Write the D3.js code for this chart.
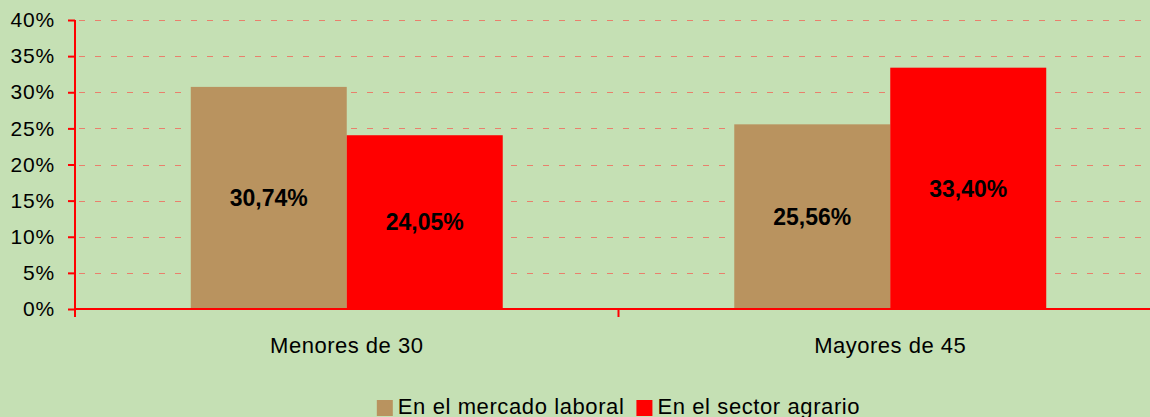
<!DOCTYPE html>
<html>
<head>
<meta charset="utf-8">
<script src="https://cdn.jsdelivr.net/npm/d3@7"></script>
<style>
  html, body { margin: 0; padding: 0; background: #C5E0B4; }
  svg { display: block; font-family: "Liberation Sans", Arial, sans-serif; }
</style>
</head>
<body>
<div id="chart"></div>
<script>
// Categories, series and tick labels
const categories = ["Menores de 30", "Mayores de 45"];
const seriesNames = ["En el mercado laboral", "En el sector agrario"];
const mercadoLaboral = [30.74, 25.56];
const sectorAgrario = [24.05, 33.40];
const yTicks = [0, 5, 10, 15, 20, 25, 30, 35, 40];

const colors = ["#B9935F", "#FF0000"];
const width = 1150;
const height = 417;

// chart area (plot runs a bit past the right edge, like the reference)
const plotLeft = 75, plotRight = 1162, plotTop = 20, plotBottom = 309;

const svg = d3.select("#chart")
    .append("svg")
    .attr("width", width)
    .attr("height", height);

svg.append("rect")
    .attr("width", width)
    .attr("height", height)
    .attr("fill", "#C5E0B4");

// Scales
const yScale = d3.scaleLinear()
    .domain([0, 40])
    .range([plotBottom, plotTop]);

const x0 = d3.scaleBand()
    .domain(categories)
    .range([plotLeft, plotRight])
    .paddingInner(0.426)
    .paddingOuter(0.213);

const x1 = d3.scaleBand()
    .domain(seriesNames)
    .range([0, x0.bandwidth()]);

// Dashed gridlines
svg.append("g")
    .selectAll("line")
    .data(yTicks.filter(d => d > 0))
    .enter()
    .append("line")
    .attr("x1", plotLeft + 2)
    .attr("x2", plotRight)
    .attr("y1", d => Math.round(yScale(d)) + 0.5)
    .attr("y2", d => Math.round(yScale(d)) + 0.5)
    .attr("stroke", "#E9806C")
    .attr("stroke-width", 1)
    .attr("stroke-dasharray", "6,10")
    .attr("stroke-dashoffset", -2);

// Bars
const rows = categories.map((c, i) => ({
    category: c,
    values: [
        { name: seriesNames[0], value: mercadoLaboral[i] },
        { name: seriesNames[1], value: sectorAgrario[i] }
    ]
}));

const groups = svg.selectAll(".group")
    .data(rows)
    .enter()
    .append("g")
    .attr("class", "group")
    .attr("transform", d => `translate(${x0(d.category)},0)`);

groups.selectAll("rect")
    .data(d => d.values)
    .enter()
    .append("rect")
    .attr("x", d => x1(d.name))
    .attr("y", d => yScale(d.value))
    .attr("width", x1.bandwidth())
    .attr("height", d => yScale(0) - yScale(d.value))
    .attr("fill", (d, i) => colors[i]);

// Value labels, in the middle of each bar
groups.selectAll("text")
    .data(d => d.values)
    .enter()
    .append("text")
    .attr("x", d => x1(d.name) + x1.bandwidth() / 2)
    .attr("y", d => (yScale(d.value) + yScale(0)) / 2)
    .attr("dy", "0.36em")
    .attr("text-anchor", "middle")
    .style("font-size", "23px")
    .style("font-weight", "bold")
    .attr("fill", "#000")
    .text(d => d.value.toFixed(2).replace(".", ",") + "%");

// Y axis
const yAxis = d3.axisLeft(yScale)
    .tickValues(yTicks)
    .tickSize(7)
    .tickSizeOuter(0)
    .tickPadding(13)
    .tickFormat(d => d + "%");

const yG = svg.append("g")
    .attr("transform", `translate(${plotLeft},0)`)
    .call(yAxis);

yG.select(".domain").remove();
yG.selectAll(".tick line").attr("stroke", "#FF0000").attr("stroke-width", 2);
yG.selectAll(".tick text")
    .attr("fill", "#000")
    .style("font-size", "21px")
    .style("letter-spacing", "0.8px")
    .style("font-family", "'Liberation Sans', Arial, sans-serif");

svg.append("line")
    .attr("x1", plotLeft)
    .attr("x2", plotLeft)
    .attr("y1", plotTop)
    .attr("y2", plotBottom + 8)
    .attr("stroke", "#FF0000")
    .attr("stroke-width", 2);

// X axis: line plus ticks at group boundaries
svg.append("line")
    .attr("x1", plotLeft)
    .attr("x2", plotRight)
    .attr("y1", plotBottom)
    .attr("y2", plotBottom)
    .attr("stroke", "#FF0000")
    .attr("stroke-width", 2);

const boundaries = d3.range(categories.length + 1).map(i => plotLeft + i * x0.step());
svg.append("g")
    .selectAll("line")
    .data(boundaries.slice(1))
    .enter()
    .append("line")
    .attr("x1", d => d)
    .attr("x2", d => d)
    .attr("y1", plotBottom)
    .attr("y2", plotBottom + 8)
    .attr("stroke", "#FF0000")
    .attr("stroke-width", 2);

svg.append("g")
    .selectAll("text")
    .data(categories)
    .enter()
    .append("text")
    .attr("x", d => x0(d) + x0.bandwidth() / 2)
    .attr("y", 353)
    .attr("text-anchor", "middle")
    .style("font-size", "22px")
    .style("letter-spacing", "0.5px")
    .attr("fill", "#000")
    .text(d => d);

// Legend, centred under the plot (cut at the bottom edge as in the reference)
const legend = svg.append("g");
const items = legend.selectAll("g")
    .data(seriesNames)
    .enter()
    .append("g");

items.append("rect")
    .attr("width", 16)
    .attr("height", 16)
    .attr("y", 400)
    .attr("fill", (d, i) => colors[i]);

items.append("text")
    .attr("x", 21)
    .attr("y", 414)
    .style("font-size", "22px")
    .style("letter-spacing", "0.6px")
    .attr("fill", "#000")
    .text(d => d);

let offset = 0;
items.each(function () {
    d3.select(this).attr("transform", `translate(${offset},0)`);
    offset += 21 + d3.select(this).select("text").node().getComputedTextLength() + 12;
});
const legendWidth = offset - 12;
const centre = (plotLeft + plotRight) / 2;
legend.attr("transform", `translate(${centre - legendWidth / 2},0)`);
</script>
</body>
</html>
